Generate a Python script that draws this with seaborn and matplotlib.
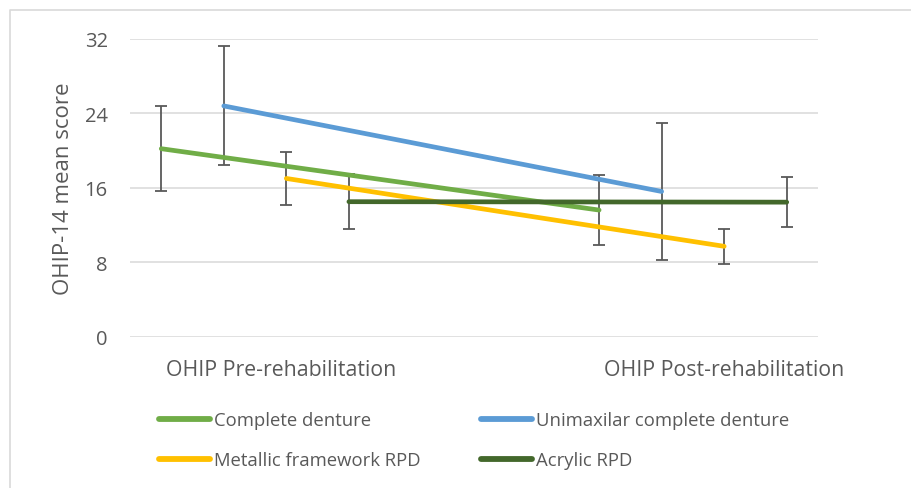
import numpy as np
import pandas as pd
import matplotlib
matplotlib.use("Agg")
import matplotlib.pyplot as plt
from matplotlib.lines import Line2D
import seaborn as sns

# ---- data ----
categories = ["OHIP Pre-rehabilitation", "OHIP Post-rehabilitation"]
series = ["Complete denture", "Unimaxilar complete denture",
          "Metallic framework RPD", "Acrylic RPD"]
pre_means = [20.2, 24.8, 17.0, 14.5]
post_means = [13.6, 15.6, 9.7, 14.45]
pre_err = [4.6, 6.4, 2.85, 2.95]
post_err = [3.75, 7.4, 1.9, 2.7]
y_ticks = [0, 8, 16, 24, 32]
colors = ["#70AD47", "#5B9BD5", "#FFC000", "#43682B"]

# ---- layout helpers ----
cat_gap = 7.0  # distance between category groups (in x units)
rows = []
for si, name in enumerate(series):
    for ci, (means, errs) in enumerate([(pre_means, pre_err), (post_means, post_err)]):
        rows.append({"series": name, "x": ci * cat_gap + si + 0.5,
                     "score": means[si], "err": errs[si]})
df = pd.DataFrame(rows)

sns.set_theme(style="white")
plt.rcParams['font.family'] = ['Open Sans', 'DejaVu Sans']

W, H = 911, 489
fig = plt.figure(figsize=(W / 100, H / 100), dpi=100)
ax = fig.add_axes([130 / W, 1 - 337.5 / H, 688 / W, 297.5 / H])

# error bars (behind lines)
for si, name in enumerate(series):
    d = df[df.series == name]
    ax.errorbar(d.x, d.score, yerr=d.err, fmt="none", ecolor="#595959",
                elinewidth=1.3, capsize=4.3, capthick=1.3, zorder=2)

sns.lineplot(data=df, x="x", y="score", hue="series", hue_order=series,
             palette=colors, linewidth=3.4, legend=False, ax=ax,
             solid_capstyle="round", zorder=3, sort=True)

ax.set_xlim(0, 11)
ax.set_ylim(0, 32)
ax.set_yticks(y_ticks)
ax.set_xticks([2.42, 9.5])
ax.set_xticklabels(categories)
ax.yaxis.grid(True, color="#D9D9D9", linewidth=1.1)
ax.set_axisbelow(True)
for s in ax.spines.values():
    s.set_visible(False)
ax.tick_params(axis="y", length=0, pad=16, labelsize=14.5, labelcolor="#595959")
ax.tick_params(axis="x", length=0, pad=16, labelsize=15.3, labelcolor="#595959")
ax.set_xlabel("")
ax.set_ylabel("OHIP-14 mean score", fontsize=16, color="#595959", labelpad=8)

# legend
order = [0, 2, 1, 3]
handles = [Line2D([0], [0], color=colors[i], linewidth=4.2, solid_capstyle="round")
           for i in order]
labels = [series[i] for i in order]
fig.legend(handles, labels, loc="upper left",
           bbox_to_anchor=(159 / W, 1 - 412 / H), ncol=2, frameon=False,
           fontsize=13.3, labelcolor="#595959", handlelength=2.75,
           handletextpad=0.25, columnspacing=3.25, labelspacing=1.2,
           borderpad=0, borderaxespad=0)

# chart frame (light border, top and left)
fig.add_artist(Line2D([10 / W, 10 / W, 1], [0, 1 - 11 / H, 1 - 11 / H],
                      transform=fig.transFigure, color="#D9D9D9", linewidth=1.2))

fig.savefig("out.png", dpi=100)
